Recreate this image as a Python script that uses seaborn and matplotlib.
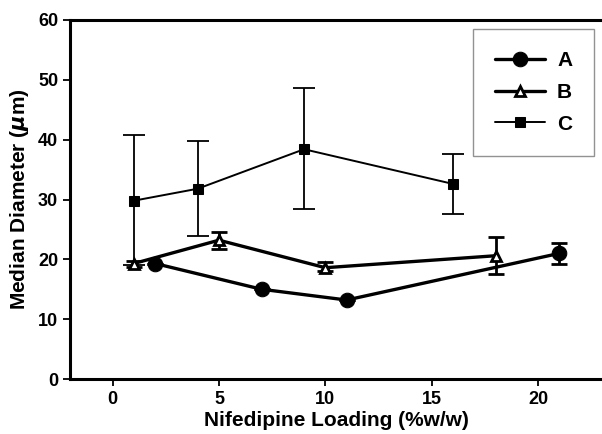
import matplotlib
matplotlib.use("Agg")
import matplotlib.pyplot as plt
import seaborn as sns
import pandas as pd

# Data
a_x = [2, 7, 11, 21]
a_y = [19.3, 15.0, 13.2, 21.0]
a_err_lo = [0.0, 0.0, 0.0, 1.8]
a_err_hi = [0.0, 0.0, 0.0, 1.8]

b_x = [1, 5, 10, 18]
b_y = [19.3, 23.2, 18.6, 20.6]
b_err_lo = [0.5, 1.5, 0.6, 3.1]
b_err_hi = [0.4, 1.4, 0.9, 3.2]

c_x = [1, 4, 9, 16]
c_y = [29.8, 31.8, 38.4, 32.6]
c_err_lo = [10.8, 7.9, 10.0, 5.0]
c_err_hi = [10.9, 7.9, 10.2, 5.0]

labels = ["A", "B", "C"]
x_ticks = [0, 5, 10, 15, 20]
y_ticks = [0, 10, 20, 30, 40, 50, 60]

sns.set_theme(style="ticks")
plt.rcParams['font.family'] = ['Liberation Sans', 'DejaVu Sans']
plt.rcParams['font.weight'] = 'bold'
plt.rcParams['text.color'] = 'black'
plt.rcParams['axes.labelcolor'] = 'black'
plt.rcParams['xtick.color'] = 'black'
plt.rcParams['ytick.color'] = 'black'
plt.rcParams['mathtext.default'] = 'it'

fig = plt.figure(figsize=(6.02, 4.34), dpi=100)
ax = fig.add_axes([70/602, 1-379/434, 1-70/602, (379-20)/434])

df_a = pd.DataFrame({"x": a_x, "y": a_y})
df_b = pd.DataFrame({"x": b_x, "y": b_y})
df_c = pd.DataFrame({"x": c_x, "y": c_y})

# Error bars
ax.errorbar(c_x, c_y, yerr=[c_err_lo, c_err_hi], fmt='none', ecolor='black',
            elinewidth=1.3, capsize=8, capthick=1.3, zorder=2)
ax.errorbar(b_x, b_y, yerr=[b_err_lo, b_err_hi], fmt='none', ecolor='black',
            elinewidth=2.0, capsize=6, capthick=2.0, zorder=2)
ax.errorbar(a_x, a_y, yerr=[a_err_lo, a_err_hi], fmt='none', ecolor='black',
            elinewidth=2.0, capsize=6, capthick=2.0, zorder=2)

sns.lineplot(data=df_a, x="x", y="y", ax=ax, color="black", linewidth=2.4,
             marker="o", markersize=10.5, markerfacecolor="black",
             markeredgecolor="black", label=labels[0], zorder=4)
sns.lineplot(data=df_b, x="x", y="y", ax=ax, color="black", linewidth=2.4,
             marker="^", markersize=6.5, markerfacecolor="white",
             markeredgecolor="black", markeredgewidth=2.0, label=labels[1], zorder=4)
sns.lineplot(data=df_c, x="x", y="y", ax=ax, color="black", linewidth=1.4,
             marker="s", markersize=7.5, markerfacecolor="black",
             markeredgecolor="black", label=labels[2], zorder=4)

ax.set_xlim(-2, 23)
ax.set_ylim(0, 60)
ax.set_xticks(x_ticks)
ax.set_yticks(y_ticks)
ax.tick_params(axis='both', labelsize=13, width=1.3, length=5, direction='out', colors='black')
for lab in ax.get_xticklabels() + ax.get_yticklabels():
    lab.set_fontweight('bold')

for side in ["left", "bottom", "top"]:
    ax.spines[side].set_visible(True)
    ax.spines[side].set_linewidth(2.2)
    ax.spines[side].set_color('black')
ax.spines["right"].set_visible(False)

ax.set_xlabel("Nifedipine Loading (%w/w)", fontsize=15, fontweight='bold', labelpad=2)
ax.set_ylabel(r"Median Diameter ($\mu$m)", fontsize=15, fontweight='bold', labelpad=5)

leg = ax.legend(loc="upper right", bbox_to_anchor=((594-70)/532, 1-9/359),
                frameon=True, fancybox=False, fontsize=15, handlelength=2.4,
                borderpad=1.05, labelspacing=0.62, handletextpad=0.6, borderaxespad=0)
leg.get_frame().set_edgecolor('#777777')
leg.get_frame().set_linewidth(1.0)
for t in leg.get_texts():
    t.set_fontweight('bold')

fig.savefig("out.png", dpi=100, facecolor='white')
